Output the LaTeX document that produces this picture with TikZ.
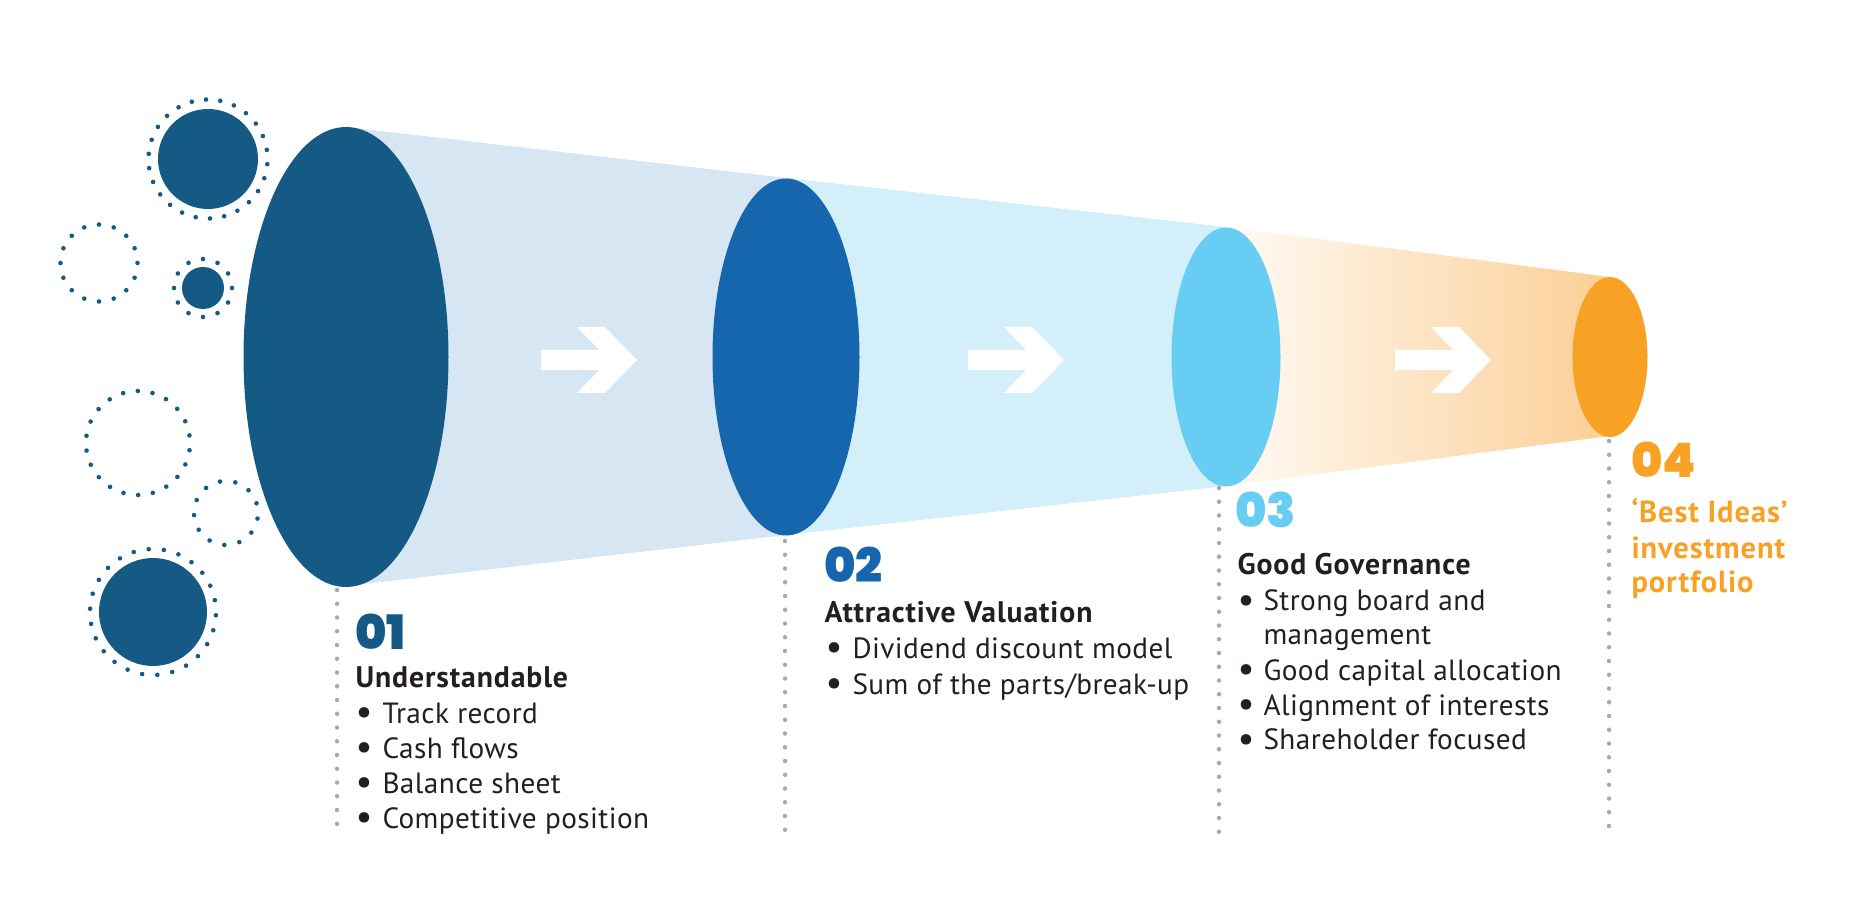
\documentclass[tikz,border=0pt]{standalone}
\usepackage{fontspec}
\setmainfont{PT Sans}
\IfFontExistsTF{Poppins Black}{\newfontfamily\numfont{Poppins Black}}{%
  \IfFontExistsTF{Poppins ExtraBold}{\newfontfamily\numfont{Poppins ExtraBold}}{%
    \newfontfamily\numfont{PT Sans Bold}[FakeBold=2]}}
\newfontfamily\bodyfont{PT Sans}[LetterSpace=1.5]
\newfontfamily\headfont{PT Sans Bold}[LetterSpace=3]
\definecolor{navy}{HTML}{155A85}
\definecolor{midblue}{HTML}{1666AD}
\definecolor{skyblue}{HTML}{67CDF3}
\definecolor{orng}{HTML}{F7A225}
\definecolor{seg1}{HTML}{D6E6F3}
\definecolor{seg2}{HTML}{D2EFFA}
\definecolor{gradL}{HTML}{FFFAF4}
\definecolor{gradR}{HTML}{FBCF95}
\definecolor{txt}{HTML}{231F20}
\definecolor{dotgray}{HTML}{A7A9AC}
\begin{document}
\begin{tikzpicture}[x=0.4pt,y=-0.4pt,
  body/.style={anchor=base west, inner sep=0pt, font=\fontsize{11.7}{13}\bodyfont, text=txt},
  bul/.style={anchor=base west, inner sep=0pt, font=\fontsize{15}{13}\bodyfont, text=txt, yshift=-0.6pt},
  head/.style={anchor=base west, inner sep=0pt, font=\fontsize{11.9}{13}\headfont, text=txt},
  best/.style={anchor=base west, inner sep=0pt, font=\fontsize{12.2}{13}\headfont, text=orng},
  num/.style={anchor=base west, inner sep=0pt, font=\fontsize{19}{20}\numfont},
  dotline/.style={draw=dotgray, line width=1.8pt, line cap=round, dash pattern=on 0pt off 5.5pt},
  whitearrow/.style={fill=white},
]
\useasboundingbox (0,0) rectangle (1875,912);

% funnel segments
\fill[seg1] (346,127) -- (786,178) -- (786,535) -- (346,586) -- cycle;
\fill[seg2] (786,178) -- (1226,227) -- (1226,486) -- (786,535) -- cycle;
\shade[left color=gradL, right color=gradR] (1226,227) -- (1610,277) -- (1610,436) -- (1226,486) -- cycle;

% ellipses
\fill[navy] (346,357) ellipse [x radius=102.5, y radius=230];
\fill[midblue] (786,357) ellipse [x radius=73.5, y radius=178.5];
\fill[skyblue] (1226,357) ellipse [x radius=54.5, y radius=129.5];
\fill[orng] (1610,357) ellipse [x radius=37.5, y radius=80];

% white arrows
\foreach \tx in {637,1064,1491}{
  \fill[whitearrow, shift={(\tx,360)}] (-96,-10) -- (-37.7,-10) -- (-60,-33) -- (-32,-33) -- (0,0)
     -- (-32,33) -- (-60,33) -- (-37.7,10) -- (-96,10) -- cycle;
}

% left circles
\fill[navy] (208,159) circle (50);
\foreach \i in {1,...,26} \fill[navy] (208,159) ++(\i*360/26+5:59.5) circle (2.3);
\foreach \i in {1,...,16} \fill[navy] (99,263) ++(\i*360/16:38.5) circle (2.3);
\fill[navy] (203,288) circle (21);
\foreach \i in {1,...,12} \fill[navy] (203,288) ++(\i*30:29) circle (2.3);
\foreach \i in {1,...,22} \fill[navy] (138,443) ++(\i*360/22+8:52) circle (2.3);
\foreach \i in {1,...,13} \fill[navy] (226,513) ++(\i*360/13+10:32) circle (2.3);
\fill[navy] (153,612) circle (54);
\foreach \i in {1,...,26} \fill[navy] (153,612) ++(\i*360/26+3:63) circle (2.3);

% dotted guide lines
\coordinate (d1t) at (337,590); \coordinate (d1b) at (337,836);
\coordinate (d2t) at (785,541); \coordinate (d2b) at (785,836);
\coordinate (d3t) at (1219,488); \coordinate (d3b) at (1219,836);
\coordinate (d4t) at (1609,441); \coordinate (d4b) at (1609,836);
\draw[dotline] (d1t) -- (d1b);
\draw[dotline] (d2t) -- (d2b);
\draw[dotline] (d3t) -- (d3b);
\draw[dotline] (d4t) -- (d4b);

% block 1
\node[num, text=navy] (n1) at (355,649) {01};
\node[head] (h1) at (355,687) {Understandable};
\node[bul] (p1a) at (355,723) {•}; \node[body] (t1a) at (382,723) {Track record};
\node[bul] (p1b) at (355,758) {•}; \node[body] (t1b) at (382,758) {Cash flows};
\node[bul] (p1c) at (355,793) {•}; \node[body] (t1c) at (382,793) {Balance sheet};
\node[bul] (p1d) at (355,828) {•}; \node[body] (t1d) at (382,828) {Competitive position};

% block 2
\node[num, text=midblue] (n2) at (824,583) {02};
\node[head] (h2) at (824,623) {Attractive Valuation};
\node[bul] (p2a) at (825,658) {•}; \node[body] (t2a) at (852,658) {Dividend discount model};
\node[bul] (p2b) at (825,694) {•}; \node[body] (t2b) at (852,694) {Sum of the parts/break-up};

% block 3
\node[num, text=skyblue] (n3) at (1235,528) {03};
\node[head] (h3) at (1237,575) {Good Governance};
\node[bul] (p3a) at (1237,611) {•}; \node[body] (t3a) at (1263,611) {Strong board and};
\node[body] (t3b) at (1263,645) {management};
\node[bul] (p3c) at (1237,680) {•}; \node[body] (t3c) at (1263,680) {Good capital allocation};
\node[bul] (p3d) at (1237,715) {•}; \node[body] (t3d) at (1263,715) {Alignment of interests};
\node[bul] (p3e) at (1237,750) {•}; \node[body] (t3e) at (1263,750) {Shareholder focused};

% block 4
\node[num, text=orng] (n4) at (1631,478) {04};
\node[best] (h4a) at (1631,523) {‘Best Ideas’};
\node[best] (h4b) at (1631,558) {investment};
\node[best] (h4c) at (1631,592) {portfolio};
\end{tikzpicture}
\end{document}
